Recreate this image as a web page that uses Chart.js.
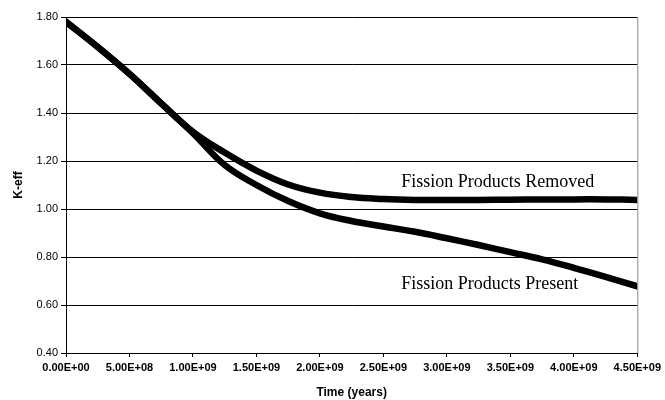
<!DOCTYPE html>
<html>
<head>
<meta charset="utf-8">
<script src="https://cdn.jsdelivr.net/npm/chart.js@4.4.0/dist/chart.umd.min.js"></script>
<style>
  body { margin: 0; background: #fff; }
</style>
</head>
<body>
<canvas id="kChart" width="665" height="400"></canvas>
<script>
// Time points (years) and K-eff values
var timeYears = [0, 2.5e8, 5e8, 7.5e8, 1.0e9, 1.25e9, 1.5e9, 1.75e9, 2.0e9, 2.25e9, 2.5e9, 2.75e9, 3.0e9, 3.25e9, 3.5e9, 3.75e9, 4.0e9, 4.25e9, 4.5e9];
var keffRemoved = [1.78, 1.675, 1.563, 1.44, 1.322, 1.235, 1.16, 1.102, 1.068, 1.05, 1.042, 1.038, 1.037, 1.038, 1.039, 1.04, 1.04, 1.04, 1.038];
var keffPresent = [1.78, 1.675, 1.563, 1.44, 1.316, 1.183, 1.10, 1.033, 0.982, 0.95, 0.927, 0.905, 0.878, 0.85, 0.82, 0.79, 0.755, 0.717, 0.678];
var yTicks = [0.40, 0.60, 0.80, 1.00, 1.20, 1.40, 1.60, 1.80];
var xTicks = [0, 5e8, 1e9, 1.5e9, 2e9, 2.5e9, 3e9, 3.5e9, 4e9, 4.5e9];

// Labels placed next to each curve (data coordinates)
var curveLabels = [
    { text: 'Fission Products Removed', x: 2.64e9, y: 1.09 },
    { text: 'Fission Products Present', x: 2.64e9, y: 0.668 }
];

function toPoints(xs, ys) {
    return xs.map(function(x, i) { return { x: x, y: ys[i] }; });
}

// Excel-like "5.00E+08"
function sciLabel(v) {
    if (v === 0) return '0.00E+00';
    var parts = Number(v).toExponential(2).split('e');
    var exp = parseInt(parts[1], 10);
    var sign = exp < 0 ? '-' : '+';
    var e = Math.abs(exp);
    return parts[0] + 'E' + sign + (e < 10 ? '0' + e : e);
}

var labelPlugin = {
    id: 'curveLabels',
    afterDraw: function(chart) {
        var ctx = chart.ctx;
        var xs = chart.scales.x, ys = chart.scales.y;
        var area = chart.chartArea;
        ctx.save();
        // right border of plot area
        ctx.strokeStyle = '#888';
        ctx.lineWidth = 1;
        ctx.beginPath();
        ctx.moveTo(area.right + 0.5, area.top);
        ctx.lineTo(area.right + 0.5, area.bottom);
        ctx.stroke();
        ctx.fillStyle = '#000';
        ctx.font = '18px "Liberation Serif", "Times New Roman", serif';
        ctx.textBaseline = 'alphabetic';
        curveLabels.forEach(function(l) {
            ctx.fillText(l.text, xs.getPixelForValue(l.x), ys.getPixelForValue(l.y));
        });
        ctx.restore();
    }
};

var lineStyle = {
    borderColor: '#000',
    backgroundColor: '#000',
    borderWidth: 6.5,
    borderCapStyle: 'round',
    borderJoinStyle: 'round',
    pointRadius: 0,
    showLine: true,
    tension: 0.4,
    fill: false
};

var ctx = document.getElementById('kChart').getContext('2d');
new Chart(ctx, {
    type: 'scatter',
    data: {
        datasets: [
            Object.assign({ label: 'Fission Products Removed', data: toPoints(timeYears, keffRemoved) }, lineStyle),
            Object.assign({ label: 'Fission Products Present', data: toPoints(timeYears, keffPresent) }, lineStyle)
        ]
    },
    options: {
        responsive: false,
        animation: false,
        devicePixelRatio: 1,
        layout: { padding: { top: 17, right: 25, left: 0, bottom: 0 } },
        plugins: {
            legend: { display: false },
            tooltip: { enabled: false }
        },
        scales: {
            x: {
                type: 'linear',
                min: 0,
                max: 4.5e9,
                afterBuildTicks: function(s) { s.ticks = xTicks.map(function(v) { return { value: v }; }); },
                afterFit: function(s) { s.height = 47; },
                ticks: {
                    color: '#000',
                    maxRotation: 0,
                    autoSkip: false,
                    padding: 4,
                    font: { family: '"Liberation Sans", Arial, sans-serif', size: 11, weight: 'bold' },
                    callback: function(v) { return sciLabel(v); }
                },
                grid: { drawOnChartArea: false, drawTicks: true, tickLength: 4, color: '#000' },
                border: { color: '#000', width: 1 },
                title: {
                    display: true,
                    text: 'Time (years)',
                    color: '#000',
                    padding: { top: 3, bottom: 0 },
                    font: { family: '"Liberation Sans", Arial, sans-serif', size: 12, weight: 'bold' }
                }
            },
            y: {
                min: 0.4,
                max: 1.8,
                afterBuildTicks: function(s) { s.ticks = yTicks.map(function(v) { return { value: v }; }); },
                afterFit: function(s) { s.width = 66; },
                ticks: {
                    color: '#000',
                    padding: 3,
                    font: { family: '"Liberation Sans", Arial, sans-serif', size: 11 },
                    callback: function(v) { return Number(v).toFixed(2); }
                },
                grid: { color: '#000', lineWidth: 1, tickLength: 5 },
                border: { color: '#000', width: 1 },
                title: {
                    display: true,
                    text: 'K-eff',
                    color: '#000',
                    padding: { top: 11, bottom: 0 },
                    font: { family: '"Liberation Sans", Arial, sans-serif', size: 12, weight: 'bold' }
                }
            }
        }
    },
    plugins: [labelPlugin]
});
</script>
</body>
</html>
